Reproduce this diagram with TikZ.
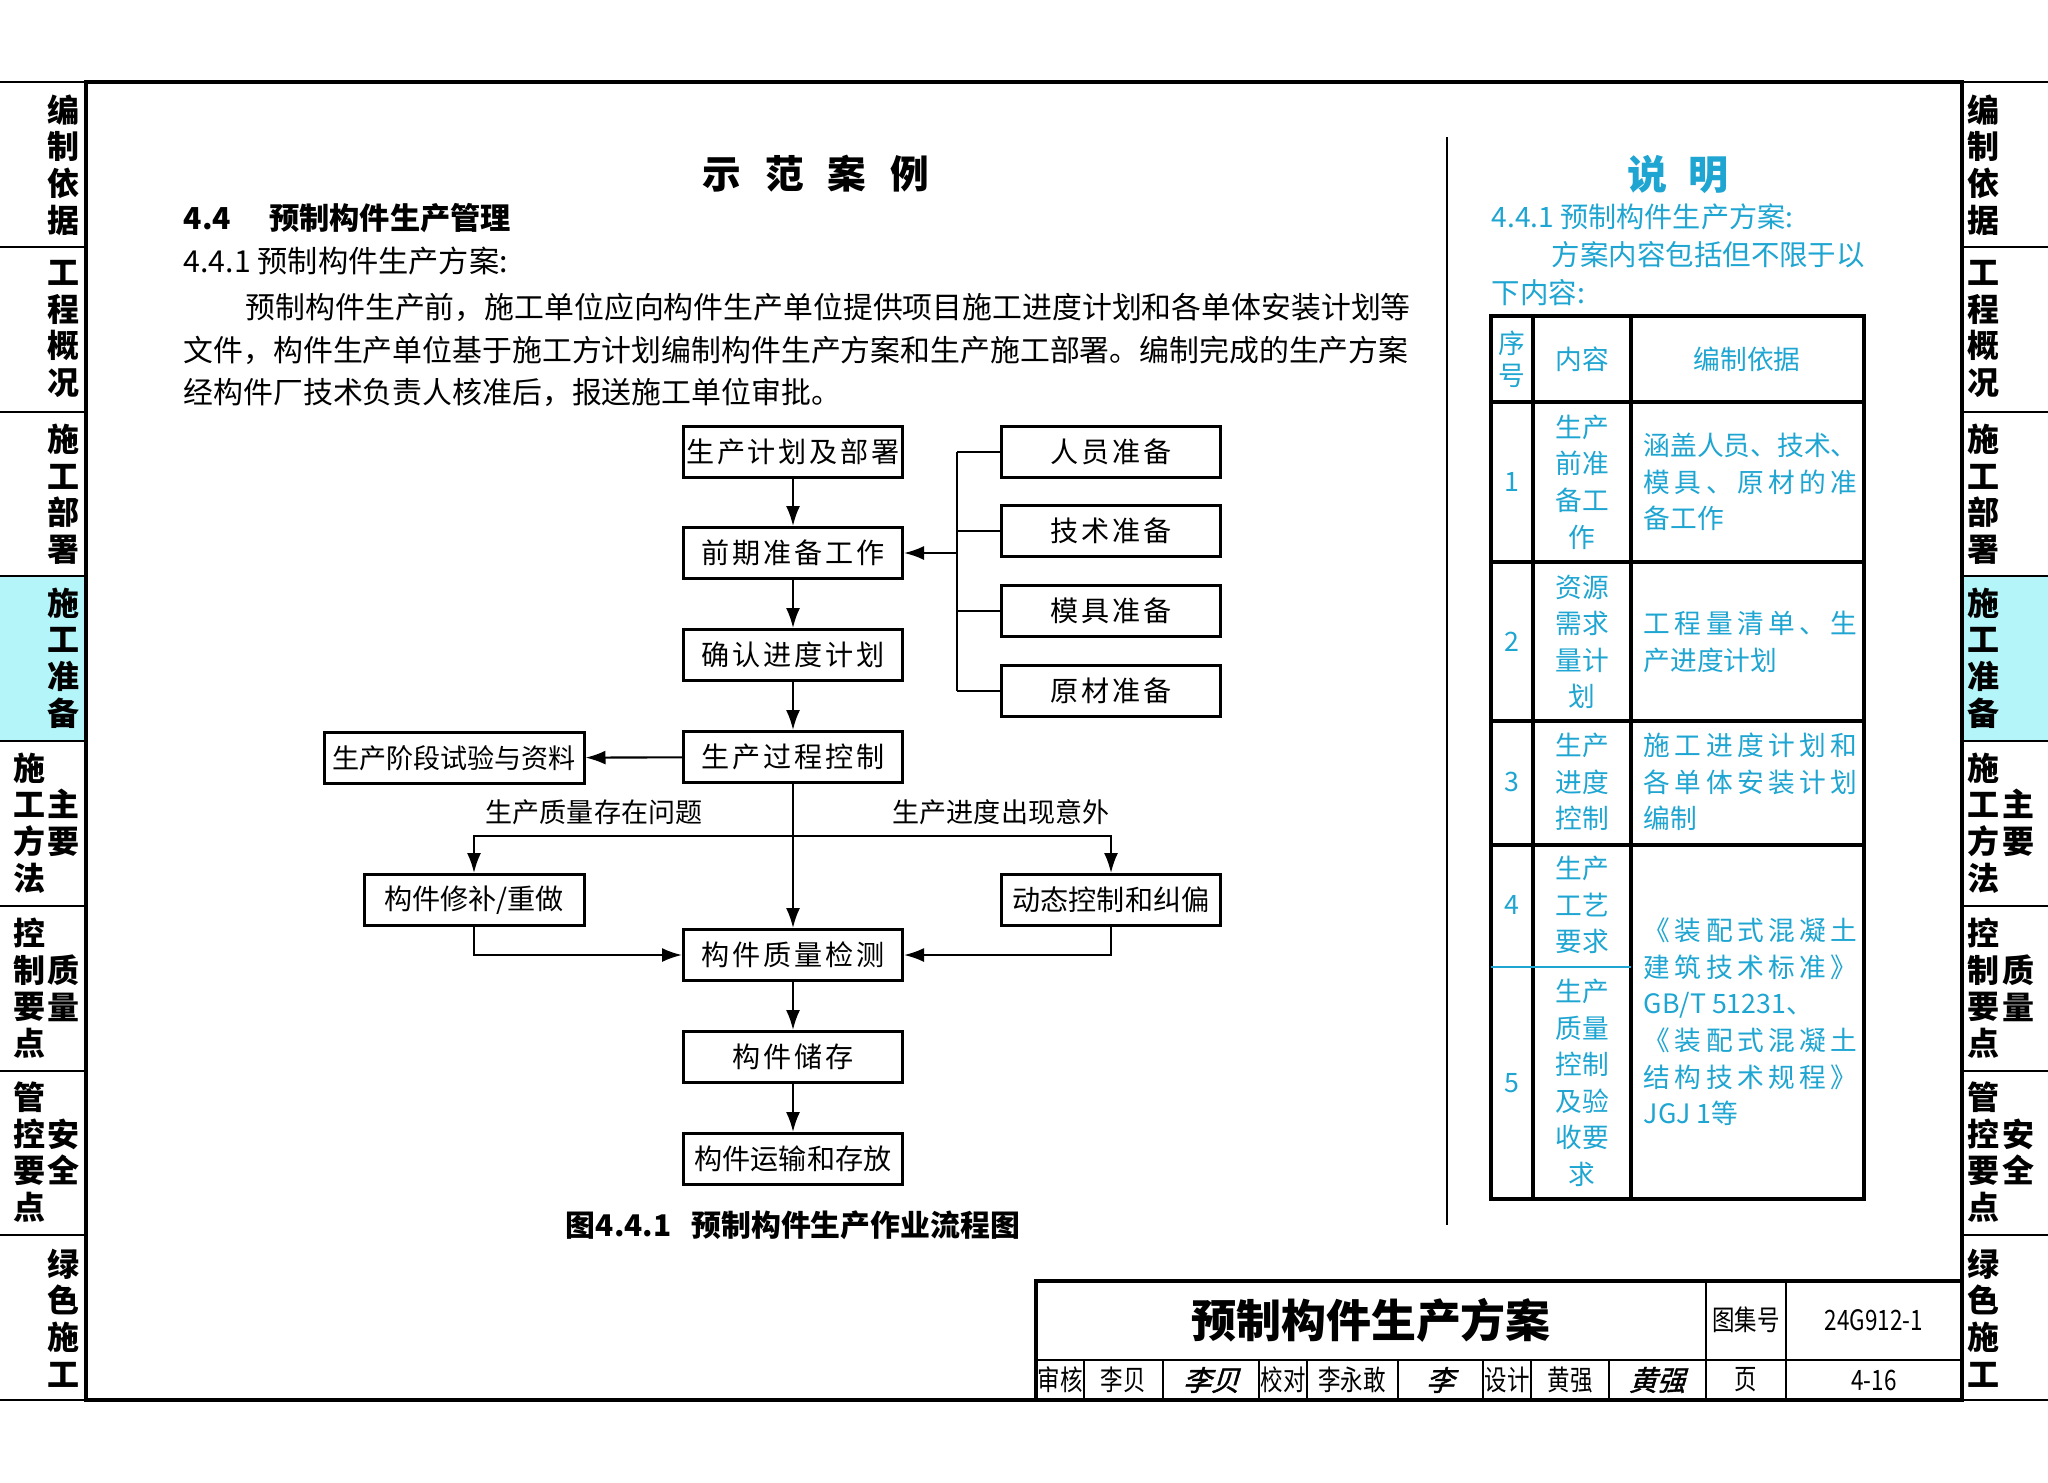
\documentclass[tikz,border=0pt]{standalone}
\usepackage{fontspec}
\setmainfont{Noto Sans CJK SC}
\newfontfamily\flowfont[LetterSpace=10]{Noto Sans CJK SC}
\newfontfamily\narrowfont[FakeStretch=0.8]{Noto Sans CJK SC}
\newfontfamily\signfont[FakeSlant=0.3,FakeBold=1.5]{Noto Sans CJK SC}
\usepackage{xcolor}
\usepackage{tikz}
\usetikzlibrary{arrows.meta}
\definecolor{notecyan}{RGB}{30,165,210}
\definecolor{tabcyan}{RGB}{180,245,250}
\tikzset{>={Latex[length=2mm,width=1.4mm]}}

\def\spreadit#1{#1\spreadnext}
\def\spreadnext#1{\ifx#1\relax\else\hfil#1\expandafter\spreadnext\fi}
\newcommand{\jline}[1]{\makebox[21.4mm][s]{\spreadit#1\relax}}

\begin{document}
\begin{tikzpicture}[x=0.1mm, y=-0.1mm]
\tikzset{flowbox/.style={draw, line width=0.85pt, minimum width=21.9mm, minimum height=5.1mm, inner sep=0pt, font=\flowfont\fontsize{8}{10}\selectfont}}
\tikzset{tabtext/.style={font=\bfseries\fontsize{9.1}{10.4}\selectfont, align=center, inner sep=0pt}}
\tikzset{note/.style={text=notecyan, font=\fontsize{7.6}{10.4}\selectfont, align=center, inner sep=0pt}}
\tikzset{body/.style={anchor=west, inner sep=0pt, font=\fontsize{8.5}{10}\selectfont}}
\tikzset{link/.style={line width=0.6pt}}
\tikzset{cell/.style={inner sep=0pt, font=\narrowfont\fontsize{8}{10}\selectfont}}
    \useasboundingbox (0,0) rectangle (2048,1482);
    \fill[white] (0,0) rectangle (2048,1482);
% % % % % % % % % % % % % % % % % % %
    \fill[tabcyan] (0,576) rectangle (86,741);
    \fill[tabcyan] (1962,576) rectangle (2048,741);
    \foreach \y in {82,247,412,576,741,906,1071,1235,1400} {
        \draw[line width=0.5pt] (0,\y) -- (86,\y);
        \draw[line width=0.5pt] (1962,\y) -- (2048,\y);
    }
    \draw[line width=1.2pt] (86,82) rectangle (1962,1400);

    \node[tabtext] (lt1) at (63,165) {编\\制\\依\\据};
    \node[tabtext] (lt2) at (63,329) {工\\程\\概\\况};
    \node[tabtext] (lt3) at (63,494) {施\\工\\部\\署};
    \node[tabtext] (lt4) at (63,658) {施\\工\\准\\备};
    \node[tabtext] (lt5a) at (29,823) {施\\工\\方\\法};
    \node[tabtext] (lt5b) at (63,823) {主\\要};
    \node[tabtext] (lt6a) at (29,988) {控\\制\\要\\点};
    \node[tabtext] (lt6b) at (63,988) {质\\量};
    \node[tabtext] (lt7a) at (29,1152) {管\\控\\要\\点};
    \node[tabtext] (lt7b) at (63,1152) {安\\全};
    \node[tabtext] (lt8) at (63,1318) {绿\\色\\施\\工};

    \node[tabtext] (rt1) at (1983,165) {编\\制\\依\\据};
    \node[tabtext] (rt2) at (1983,329) {工\\程\\概\\况};
    \node[tabtext] (rt3) at (1983,494) {施\\工\\部\\署};
    \node[tabtext] (rt4) at (1983,658) {施\\工\\准\\备};
    \node[tabtext] (rt5a) at (1983,823) {施\\工\\方\\法};
    \node[tabtext] (rt5b) at (2018,823) {主\\要};
    \node[tabtext] (rt6a) at (1983,988) {控\\制\\要\\点};
    \node[tabtext] (rt6b) at (2018,988) {质\\量};
    \node[tabtext] (rt7a) at (1983,1152) {管\\控\\要\\点};
    \node[tabtext] (rt7b) at (2018,1152) {安\\全};
    \node[tabtext] (rt8) at (1983,1318) {绿\\色\\施\\工};
% % % % % % % % % % % % % % % % % % %
    \node[inner sep=0pt, font=\bfseries\fontsize{11}{13}\selectfont] (title) at (816,174) {示\hspace{2.4mm}范\hspace{2.4mm}案\hspace{2.4mm}例};
    \node[body, font=\bfseries\fontsize{8.6}{10}\selectfont] (sec) at (183,218) {4.4\hspace{3.8mm}预制构件生产管理};
    \node[body, font=\fontsize{8.6}{10}\selectfont] (subsec) at (183,261) {4.4.1 预制构件生产方案:};
    \node[body] (par1) at (245,307) {预制构件生产前，施工单位应向构件生产单位提供项目施工进度计划和各单体安装计划等};
    \node[body] (par2) at (183,350) {文件，构件生产单位基于施工方计划编制构件生产方案和生产施工部署。编制完成的生产方案};
    \node[body] (par3) at (183,392) {经构件厂技术负责人核准后，报送施工单位审批。};

    \draw[line width=0.6pt] (1447,137) -- (1447,1225);
% % % % % % % % % % % % % % % % % % %
    \node[flowbox] (plan) at (793,452) {生产计划及部署};
    \node[flowbox] (prep) at (793,553) {前期准备工作};
    \node[flowbox] (sched) at (793,655) {确认进度计划};
    \node[flowbox] (ctrl) at (793,757) {生产过程控制};
    \node[flowbox] (check) at (793,955) {构件质量检测};
    \node[flowbox] (store) at (793,1057) {构件储存};
    \node[flowbox, font=\fontsize{8}{10}\selectfont] (ship) at (793,1159) {构件运输和存放};

    \node[flowbox] (staff) at (1111,452) {人员准备};
    \node[flowbox] (tech) at (1111,531) {技术准备};
    \node[flowbox] (mould) at (1111,611) {模具准备};
    \node[flowbox] (mater) at (1111,691) {原材准备};

    \node[flowbox, minimum width=26mm, font=\fontsize{7.7}{10}\selectfont] (trial) at (454,758) {生产阶段试验与资料};
    \node[flowbox, minimum width=22mm, font=\fontsize{8}{10}\selectfont] (repair) at (474,900) {构件修补/重做};
    \node[flowbox, font=\fontsize{8}{10}\selectfont] (adjust) at (1111,900) {动态控制和纠偏};

    \draw[link,->] (plan) -- (prep);
    \draw[link,->] (prep) -- (sched);
    \draw[link,->] (sched) -- (ctrl);
    \draw[link,->] (ctrl) -- (trial);
    \draw[link,->] (ctrl) -- (check);
    \draw[link,->] (check) -- (store);
    \draw[link,->] (store) -- (ship);

    \coordinate (bus) at (957,553);
    \draw[link] (bus |- staff.west) -- (bus |- mater.west);
    \foreach \n in {staff,tech,mould,mater}
        \draw[link] (\n.west) -- (bus |- \n.west);
    \draw[link,->] (bus) -- (prep.east);

    \coordinate (split) at (793,836);
    \draw[link,->] (split) -| (repair);
    \draw[link,->] (split) -| (adjust);
    \draw[link,->] (repair) |- (check);
    \draw[link,->] (adjust) |- (check);
    \node[inner sep=0pt, font=\fontsize{7.7}{10}\selectfont] (qlabel) at (594,812) {生产质量存在问题};
    \node[inner sep=0pt, font=\fontsize{7.7}{10}\selectfont] (slabel) at (1001,812) {生产进度出现意外};

    \node[inner sep=0pt, font=\bfseries\fontsize{8.5}{10}\selectfont] (cap) at (793,1225) {图4.4.1\hspace{2mm}预制构件生产作业流程图};
% % % % % % % % % % % % % % % % % % %
    \node[text=notecyan, inner sep=0pt, font=\bfseries\fontsize{11.4}{13}\selectfont] (notehead) at (1678,174) {说\hspace{2mm}明};
    \node[note, anchor=west, font=\fontsize{8}{10}\selectfont] (note1) at (1491,217) {4.4.1 预制构件生产方案:};
    \node[note, anchor=west, font=\fontsize{8.1}{10}\selectfont] (note2) at (1551,255) {方案内容包括但不限于以};
    \node[note, anchor=west, font=\fontsize{8.1}{10}\selectfont] (note3) at (1491,293) {下内容:};

    \draw[line width=0.9pt] (1491,316) rectangle (1864,1199);
    \draw[line width=0.9pt] (1533,316) -- (1533,1199);
    \draw[line width=0.9pt] (1631,316) -- (1631,1199);
    \foreach \y in {402,562,721,845}
        \draw[line width=0.9pt] (1491,\y) -- (1864,\y);
    \draw[notecyan, line width=0.6pt] (1491,967) -- (1631,967);

    \node[note, font=\fontsize{7.6}{9.2}\selectfont] (h1) at (1512,359) {序\\号};
    \node[note] (h2) at (1582,359) {内容};
    \node[note] (h3) at (1747,359) {编制依据};

    \node[note] (n1) at (1512,482) {1};
    \node[note] (c1) at (1582,482) {生产\\前准\\备工\\作};
    \node[note, anchor=west, align=left] (d1) at (1643,482) {\jline{涵盖人员、技术、}\\\jline{模具、原材的准}\\备工作};

    \node[note] (n2) at (1512,642) {2};
    \node[note] (c2) at (1582,642) {资源\\需求\\量计\\划};
    \node[note, anchor=west, align=left] (d2) at (1643,642) {\jline{工程量清单、生}\\产进度计划};

    \node[note] (n3) at (1512,782) {3};
    \node[note] (c3) at (1582,782) {生产\\进度\\控制};
    \node[note, anchor=west, align=left] (d3) at (1643,782) {\jline{施工进度计划和}\\\jline{各单体安装计划}\\编制};

    \node[note] (n4) at (1512,905) {4};
    \node[note] (c4) at (1582,905) {生产\\工艺\\要求};

    \node[note] (n5) at (1512,1083) {5};
    \node[note] (c5) at (1582,1083) {生产\\质量\\控制\\及验\\收要\\求};
    \node[note, anchor=west, align=left] (d45) at (1643,1022) {\jline{《装配式混凝土}\\\jline{建筑技术标准》}\\GB/T 51231、\\\jline{《装配式混凝土}\\\jline{结构技术规程》}\\JGJ 1等};
% % % % % % % % % % % % % % % % % % %
    \draw[line width=0.9pt] (1036,1281) rectangle (1962,1400);
    \draw[line width=0.6pt] (1036,1360) -- (1962,1360);
    \foreach \x in {1706,1786}
        \draw[line width=0.6pt] (\x,1281) -- (\x,1400);
    \foreach \x in {1084,1163,1259,1307,1398,1483,1531,1609}
        \draw[line width=0.6pt] (\x,1360) -- (\x,1400);

    \node[inner sep=0pt, font=\bfseries\fontsize{12.8}{14}\selectfont] (sheet) at (1371,1320) {预制构件生产方案};
    \node[cell] (atlas) at (1746,1320) {图集号};
    \node[cell] (atlasno) at (1874,1320) {24G912-1};
    \node[cell] (audit) at (1060,1380) {审核};
    \node[cell] (auditor) at (1123,1380) {李贝};
    \node[inner sep=0pt, font=\signfont\fontsize{8}{10}\selectfont] (auditsign) at (1211,1380) {李贝};
    \node[cell] (proof) at (1283,1380) {校对};
    \node[cell] (proofer) at (1352,1380) {李永敢};
    \node[inner sep=0pt, font=\signfont\fontsize{8}{10}\selectfont] (proofsign) at (1440,1380) {李};
    \node[cell] (design) at (1507,1380) {设计};
    \node[cell] (designer) at (1570,1380) {黄强};
    \node[inner sep=0pt, font=\signfont\fontsize{8}{10}\selectfont] (designsign) at (1657,1380) {黄强};
    \node[cell] (page) at (1746,1380) {页};
    \node[cell] (pageno) at (1874,1380) {4-16};
\end{tikzpicture}
\end{document}
